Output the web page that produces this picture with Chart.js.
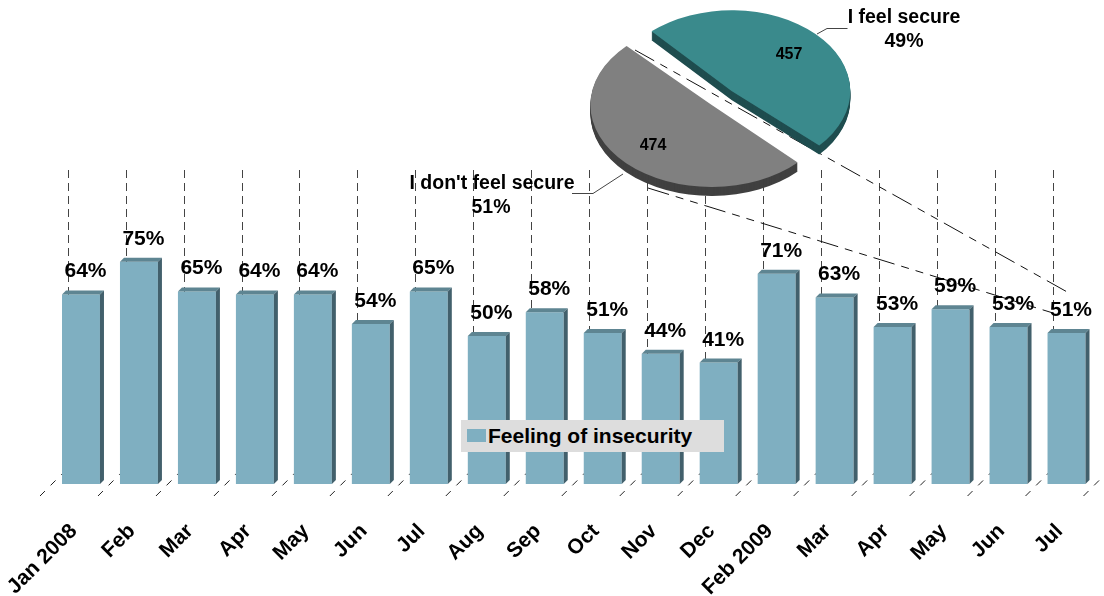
<!DOCTYPE html>
<html>
<head>
<meta charset="utf-8">
<title>Feeling of insecurity</title>
<script src="https://cdn.jsdelivr.net/npm/chart.js@4"></script>
<style>
  body { margin: 0; background: #fff; }
  #wrap { position: relative; width: 1104px; height: 596px; overflow: hidden; }
  canvas { position: absolute; left: 0; top: 0; }
  #legend {
    position: absolute; left: 461px; top: 420px; width: 263px; height: 32px;
    background: #dddddd; font: bold 21px "Liberation Sans", Arial, sans-serif; color: #000;
  }
  #legend i { position: absolute; left: 6px; top: 9px; width: 19px; height: 13px; background: #7fafc1; }
  #legend span { position: absolute; left: 27px; top: 4px; white-space: nowrap; }
</style>
</head>
<body>
<div id="wrap">
  <canvas id="bars" width="1104" height="596"></canvas>
  <canvas id="pie" width="1104" height="596"></canvas>
  <div id="legend"><i></i><span id="legendText"></span></div>
</div>
<script>
const months = ['Jan 2008', 'Feb', 'Mar', 'Apr', 'May', 'Jun', 'Jul', 'Aug', 'Sep', 'Oct', 'Nov', 'Dec', 'Feb 2009', 'Mar', 'Apr', 'May', 'Jun', 'Jul'];
const insecurity = [64, 75, 65, 64, 64, 54, 65, 50, 58, 51, 44, 41, 71, 63, 53, 59, 53, 51];
const seriesName = 'Feeling of insecurity';
const pieNames = ['I feel secure', "I don't feel secure"];
const pieValues = [457, 474];
const piePercents = ['49%', '51%'];

const FONT = '"Liberation Sans", Arial, sans-serif';
const DEPTH = 4;

document.getElementById('legendText').textContent = seriesName;

// back wall dashes + floor diagonals
const gridPlugin = {
  id: 'grid3d',
  beforeDatasetsDraw(chart) {
    const { ctx, chartArea, scales } = chart;
    const x = scales.x;
    const band = x.getPixelForValue(1) - x.getPixelForValue(0);
    for (let i = 0; i <= months.length; i++) {
      const b = x.getPixelForValue(0) - band / 2 + band * i;
      ctx.save();
      ctx.lineWidth = 1;
      ctx.strokeStyle = '#222';
      ctx.setLineDash([7, 8]);
      ctx.beginPath();
      ctx.moveTo(b - 12, chartArea.bottom + 12);
      ctx.lineTo(b + 16, chartArea.bottom - 16);
      ctx.stroke();
      if (i < months.length) {
        const gx = Math.round(b + 15.6) + 0.5;
        ctx.strokeStyle = '#444';
        ctx.setLineDash([8, 5]);
        ctx.beginPath();
        ctx.moveTo(gx, chartArea.top);
        ctx.lineTo(gx, chartArea.bottom - 16);
        ctx.stroke();
      }
      ctx.restore();
    }
    // series lines from the pie down to the bars, they stay behind the pie canvas
    ctx.save();
    ctx.strokeStyle = '#111';
    ctx.lineWidth = 1;
    ctx.setLineDash([22, 7, 8, 7, 8, 7]);
    [[635, 50, 1069, 293], [648, 188, 1053, 313]].forEach(p => {
      ctx.beginPath();
      ctx.moveTo(p[0], p[1]);
      ctx.lineTo(p[2], p[3]);
      ctx.stroke();
    });
    ctx.restore();
  }
};

// extruded faces of the bars and the value labels
const barFaces = {
  id: 'barFaces',
  afterDatasetsDraw(chart) {
    const { ctx } = chart;
    chart.getDatasetMeta(0).data.forEach((bar, i) => {
      const l = bar.x - bar.width / 2;
      const r = bar.x + bar.width / 2;
      ctx.fillStyle = '#5e8592';
      ctx.beginPath();
      ctx.moveTo(l, bar.y);
      ctx.lineTo(l + DEPTH, bar.y - DEPTH);
      ctx.lineTo(r + DEPTH, bar.y - DEPTH);
      ctx.lineTo(r, bar.y);
      ctx.fill();
      ctx.fillStyle = '#42606c';
      ctx.beginPath();
      ctx.moveTo(r, bar.y);
      ctx.lineTo(r + DEPTH, bar.y - DEPTH);
      ctx.lineTo(r + DEPTH, bar.base - DEPTH);
      ctx.lineTo(r, bar.base);
      ctx.fill();
    });
    ctx.fillStyle = '#000';
    ctx.font = 'bold 21px ' + FONT;
    ctx.textAlign = 'center';
    ctx.textBaseline = 'alphabetic';
    chart.getDatasetMeta(0).data.forEach((bar, i) => {
      ctx.fillText(insecurity[i] + '%', bar.x + 4.5, bar.y - 17);
    });
  }
};

new Chart(document.getElementById('bars'), {
  type: 'bar',
  data: {
    labels: months,
    datasets: [{
      label: seriesName,
      data: insecurity,
      backgroundColor: '#7fafc1',
      barPercentage: 0.655,
      categoryPercentage: 1
    }]
  },
  options: {
    responsive: false,
    animation: false,
    layout: { padding: { left: 52, right: 8.5, top: 170, bottom: 0 } },
    plugins: { legend: { display: false }, tooltip: { enabled: false } },
    scales: {
      x: {
        grid: { display: false },
        border: { display: false },
        afterFit(s) { s.height = 112; s.paddingLeft = 0; s.paddingRight = 0; },
        ticks: {
          autoSkip: false, minRotation: 45, maxRotation: 45,
          color: '#000', padding: 27, labelOffset: -7,
          font: { family: FONT, size: 21, weight: 'bold' }
        }
      },
      y: { display: false, min: 0, max: 106 }
    }
  },
  plugins: [gridPlugin, barFaces]
});

// the pie is laid out round (cx, layoutCy), then flattened to sit at (cx, cy)
const cx = 722, cy = 97.5, layoutCy = 298, flatten = 0.68, pieDepth = 9;
const sideColors = ['#1f4d4f', '#404040'];

const tiltedPie = {
  id: 'tiltedPie',
  beforeDatasetDraw(chart, args) {
    const { ctx } = chart;
    const flat = (dy) => {
      ctx.translate(0, cy + dy);
      ctx.scale(1, flatten);
      ctx.translate(0, -layoutCy);
    };
    args.meta.data.forEach((arc, i) => {
      const keep = arc.options;
      arc.options = Object.assign({}, keep, { backgroundColor: sideColors[i] });
      for (let d = pieDepth; d > 0; d--) {
        ctx.save();
        flat(d);
        arc.draw(ctx);
        ctx.restore();
      }
      arc.options = keep;
    });
    ctx.save();
    flat(0);
  },
  afterDatasetDraw(chart) {
    chart.ctx.restore();
  },
  afterDraw(chart) {
    const { ctx } = chart;
    ctx.save();
    ctx.lineWidth = 1;
    // label leaders
    ctx.strokeStyle = '#444';
    [[[847.5, 28.5], [827, 28.5], [817, 34]], [[572, 193.5], [593, 193.5], [623, 174]]].forEach(path => {
      ctx.beginPath();
      path.forEach((p, i) => i ? ctx.lineTo(p[0], p[1]) : ctx.moveTo(p[0], p[1]));
      ctx.stroke();
    });
    ctx.fillStyle = '#000';
    ctx.textAlign = 'center';
    ctx.textBaseline = 'alphabetic';
    ctx.font = 'bold 16px ' + FONT;
    ctx.fillText(pieValues[0], 789, 59);
    ctx.fillText(pieValues[1], 653, 150);
    ctx.font = 'bold 19.5px ' + FONT;
    ctx.fillText(pieNames[0], 904, 23);
    ctx.fillText(piePercents[0], 904, 47);
    ctx.fillText(pieNames[1], 492, 189);
    ctx.fillText(piePercents[1], 491, 213);
    ctx.restore();
  }
};

new Chart(document.getElementById('pie'), {
  type: 'pie',
  data: {
    labels: pieNames,
    datasets: [{
      data: pieValues,
      backgroundColor: ['#3a8a8c', '#808080'],
      borderWidth: 0,
      offset: [54, 60],
      clip: false
    }]
  },
  options: {
    responsive: false,
    animation: false,
    rotation: -43.35,
    layout: { padding: { left: 586, right: 246, top: 162, bottom: 162 } },
    plugins: { legend: { display: false }, tooltip: { enabled: false } }
  },
  plugins: [tiltedPie]
});
</script>
</body>
</html>
